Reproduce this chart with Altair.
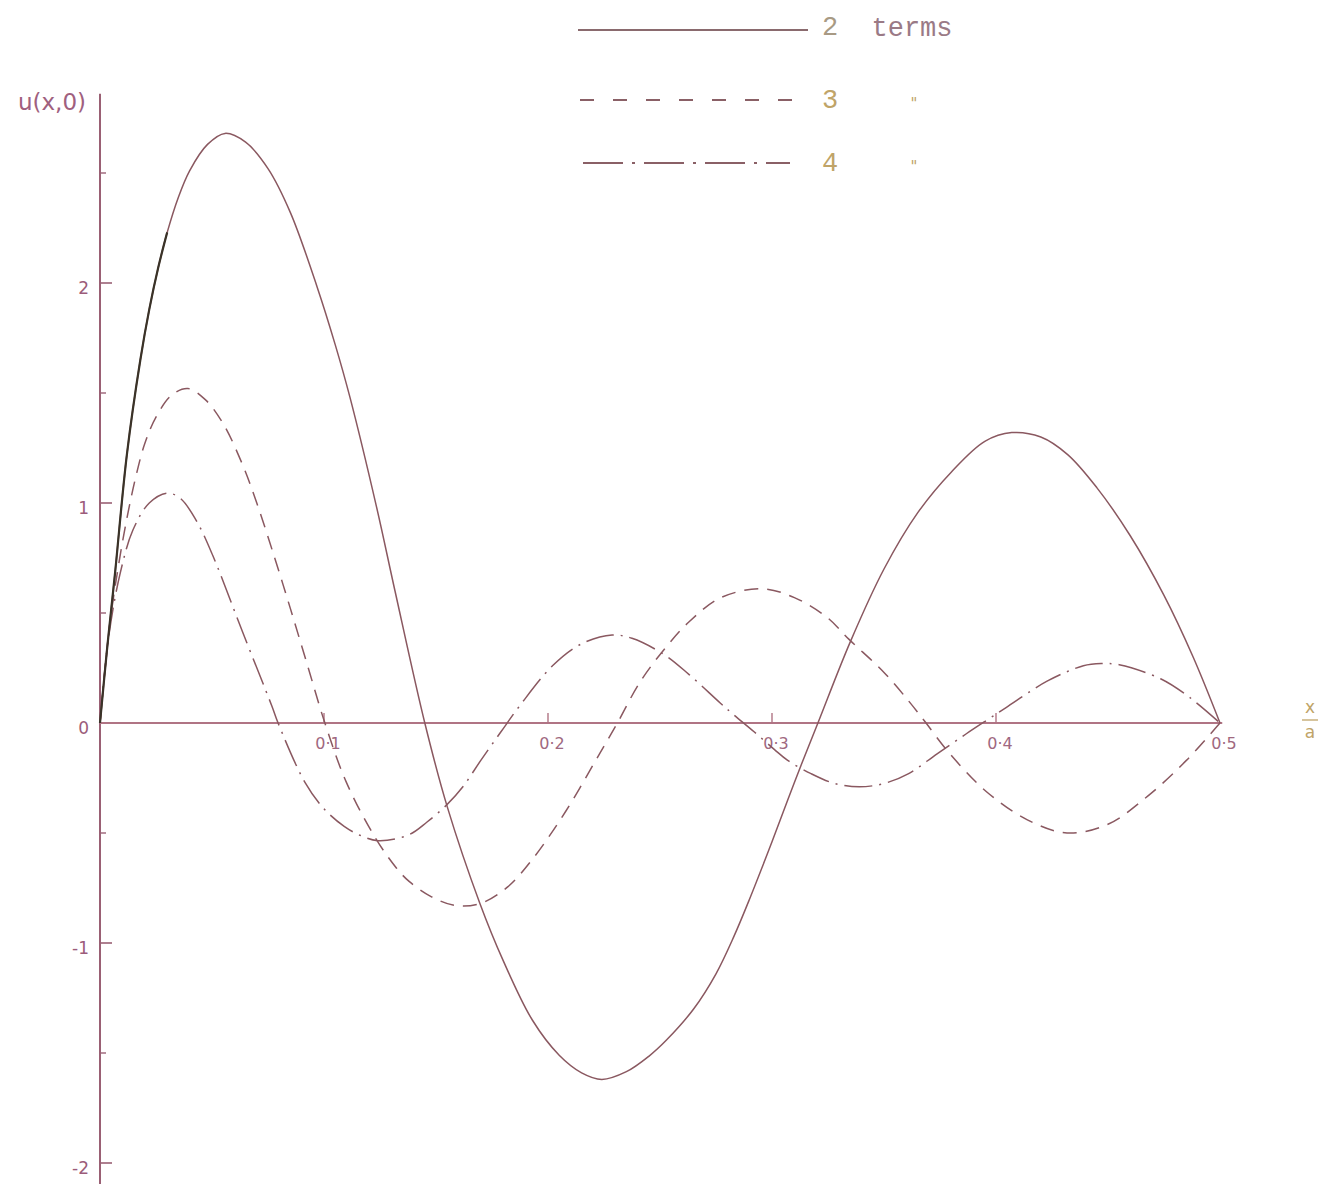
import altair as alt
import pandas as pd

# ---------------- data ----------------
x_2terms = [0, 0.003, 0.0067, 0.012, 0.018, 0.022, 0.026, 0.03, 0.035, 0.04, 0.048, 0.0558,
            0.065, 0.075, 0.085, 0.097, 0.105, 0.1116, 0.1235, 0.1317, 0.145, 0.155, 0.1696,
            0.18, 0.193, 0.205, 0.215, 0.224, 0.235, 0.245, 0.253, 0.265, 0.275, 0.283, 0.29,
            0.30, 0.31, 0.3205, 0.335, 0.35, 0.365, 0.38, 0.395, 0.407, 0.42, 0.432, 0.445,
            0.46, 0.475, 0.488, 0.5]
u_2terms = [0, 0.32, 0.68, 1.22, 1.65, 1.88, 2.07, 2.23, 2.39, 2.51, 2.63, 2.68,
            2.64, 2.52, 2.32, 1.98, 1.72, 1.48, 0.98, 0.6, 0.0, -0.38, -0.82,
            -1.08, -1.35, -1.51, -1.59, -1.62, -1.585, -1.515, -1.44, -1.3, -1.14, -0.97, -0.8,
            -0.54, -0.27, 0.0, 0.37, 0.7, 0.955, 1.14, 1.28, 1.32, 1.3, 1.22, 1.07,
            0.85, 0.58, 0.3, 0.0]

x_3terms = [0, 0.004, 0.008, 0.012, 0.016, 0.02, 0.025, 0.032, 0.0393, 0.047, 0.055, 0.0634,
            0.07, 0.078, 0.085, 0.0924, 0.1004, 0.11, 0.1228, 0.1324, 0.138, 0.148, 0.159,
            0.17, 0.182, 0.193, 0.208, 0.223, 0.231, 0.241, 0.2527, 0.263, 0.2772, 0.2955,
            0.31, 0.3246, 0.3344, 0.35, 0.361, 0.368, 0.379, 0.3955, 0.414, 0.4317, 0.45,
            0.468, 0.485, 0.5]
u_3terms = [0, 0.42, 0.7, 0.93, 1.12, 1.27, 1.39, 1.49, 1.52, 1.47, 1.36, 1.18,
            1.0, 0.75, 0.52, 0.27, 0.0, -0.27, -0.52, -0.66, -0.72, -0.79, -0.83,
            -0.82, -0.745, -0.62, -0.4, -0.14, 0.0, 0.185, 0.345, 0.46, 0.57, 0.61,
            0.57, 0.48, 0.38, 0.23, 0.1, 0.01, -0.135, -0.31, -0.44, -0.5, -0.46,
            -0.33, -0.17, 0.0]

x_4terms = [0, 0.004, 0.009, 0.0147, 0.022, 0.03, 0.036, 0.043, 0.0504, 0.0634, 0.0768,
            0.0795, 0.0915, 0.1, 0.109, 0.116, 0.124, 0.1375, 0.146, 0.155, 0.162, 0.17,
            0.179, 0.1875, 0.202, 0.215, 0.2286, 0.2375, 0.252, 0.263, 0.277, 0.2826, 0.292,
            0.301, 0.307, 0.3174, 0.328, 0.339, 0.35, 0.361, 0.3737, 0.3866, 0.397, 0.4045,
            0.4228, 0.439, 0.447, 0.455, 0.4737, 0.4866, 0.5]
u_4terms = [0, 0.4, 0.68, 0.877, 1.0, 1.045, 1.02, 0.92, 0.76, 0.42, 0.075,
            0.0, -0.27, -0.39, -0.47, -0.51, -0.535, -0.51, -0.45, -0.37, -0.29, -0.17,
            -0.04, 0.08, 0.26, 0.36, 0.4, 0.385, 0.31, 0.22, 0.09, 0.04, -0.04,
            -0.12, -0.17, -0.23, -0.275, -0.29, -0.275, -0.23, -0.14, -0.05, 0.02, 0.07,
            0.19, 0.26, 0.27, 0.265, 0.2, 0.115, 0.0]

y_major_ticks = [2, 1, -1, -2]
y_minor_ticks = [2.5, 1.5, 0.5, -0.5, -1.5]
y_label_values = [2, 1, 0, -1, -2]
y_tick_labels = ["2", "1", "0", "-1", "-2"]
x_ticks = [0.1, 0.2, 0.3, 0.4]
x_label_values = [0.1, 0.2, 0.3, 0.4, 0.5]
x_tick_labels = ["0·1", "0·2", "0·3", "0·4", "0·5"]
legend_numbers = ["2", "3", "4"]
y_title = "u(x,0)"

# ---------------- layout / style ----------------
W, H = 1314, 1176
PXX, PXY = 2240.0, 220.0          # pixels per unit
OX, OY = 92, 715                  # origin inside plot area
x_dom = [-OX / PXX, (W - OX) / PXX]
y_dom = [-(H - OY) / PXY, OY / PXY]
SX = alt.Scale(domain=x_dom, nice=False, zero=False)
SY = alt.Scale(domain=y_dom, nice=False, zero=False)

LINE = "#8a5860"
DARK = "#3a3328"
AXIS = "#9a6074"
LABEL = "#9c5c7a"
OLIVE = "#c0a468"
FONT = "DejaVu Sans"
MONO = "Liberation Mono"
INTERP = "catmull-rom"

one = pd.DataFrame({"k": [0]})


def X(f):
    return alt.X(f, type="quantitative", scale=SX, axis=None)


def Y(f):
    return alt.Y(f, type="quantitative", scale=SY, axis=None)


def curve(xs, us, dash=None, color=LINE, width=1.5):
    df = pd.DataFrame({"x": xs, "u": us, "i": list(range(len(xs)))})
    kw = dict(color=color, strokeWidth=width, interpolate=INTERP)
    if dash:
        kw["strokeDash"] = dash
    return alt.Chart(df).mark_line(**kw).encode(x=X("x"), y=Y("u"), order="i:Q")


layers = []

# axes
yaxis = pd.DataFrame({"x": [0.0], "y": [y_dom[0]], "y2": [2.86]})
layers.append(alt.Chart(yaxis).mark_rule(color=AXIS, strokeWidth=2).encode(
    x=X("x"), y=Y("y"), y2="y2:Q"))
xaxis = pd.DataFrame({"x": [0.0], "x2": [0.501], "y": [0.0]})
layers.append(alt.Chart(xaxis).mark_rule(color="#b07484", strokeWidth=1.8).encode(
    x=X("x"), x2="x2:Q", y=Y("y")))

# y ticks
ymaj = pd.DataFrame({"y": y_major_ticks, "x": [0.0] * len(y_major_ticks),
                     "x2": [12 / PXX] * len(y_major_ticks)})
layers.append(alt.Chart(ymaj).mark_rule(color=AXIS, strokeWidth=1.6).encode(
    x=X("x"), x2="x2:Q", y=Y("y")))
ymin = pd.DataFrame({"y": y_minor_ticks, "x": [0.0] * len(y_minor_ticks),
                     "x2": [6 / PXX] * len(y_minor_ticks)})
layers.append(alt.Chart(ymin).mark_rule(color=AXIS, strokeWidth=1.4).encode(
    x=X("x"), x2="x2:Q", y=Y("y")))
# x ticks
xt = pd.DataFrame({"x": x_ticks, "y": [0.0] * len(x_ticks), "y2": [10 / PXY] * len(x_ticks)})
layers.append(alt.Chart(xt).mark_rule(color="#b07484", strokeWidth=1.4).encode(
    x=X("x"), y=Y("y"), y2="y2:Q"))

# tick labels
yl = pd.DataFrame({"y": y_label_values, "t": y_tick_labels, "x": [0.0] * len(y_label_values)})
layers.append(alt.Chart(yl).mark_text(font=FONT, fontSize=17, color=LABEL, align="right",
                                      baseline="middle", dx=-11, dy=6).encode(
    x=X("x"), y=Y("y"), text="t:N"))
xl = pd.DataFrame({"x": x_label_values, "t": x_tick_labels, "y": [0.0] * len(x_label_values)})
layers.append(alt.Chart(xl).mark_text(font=FONT, fontSize=16, color="#a06880", align="center",
                                      baseline="middle", dx=4, dy=21).encode(
    x=X("x"), y=Y("y"), text="t:N"))

# curves
layers.append(curve(x_4terms, u_4terms, dash=[28, 7, 2, 7]))
layers.append(curve(x_3terms, u_3terms, dash=[14, 9]))
layers.append(curve(x_2terms, u_2terms))
dark_x = [v for v in x_2terms if v <= 0.03]
dark_u = u_2terms[:len(dark_x)]
layers.append(curve(dark_x, dark_u, color=DARK, width=2.2))

# axis titles
layers.append(alt.Chart(one).mark_text(text=y_title, font=FONT, fontSize=23, color="#a0607e",
                                       align="center", baseline="middle").encode(
    x=alt.value(44), y=alt.value(95)))
layers.append(alt.Chart(one).mark_text(text="x", font=FONT, fontSize=17, color=OLIVE,
                                       align="center", baseline="middle").encode(
    x=alt.value(1302), y=alt.value(700)))
layers.append(alt.Chart(one).mark_rule(color=OLIVE, strokeWidth=1.3).encode(
    x=alt.value(1294), x2=alt.value(1310), y=alt.value(712)))
layers.append(alt.Chart(one).mark_text(text="a", font=FONT, fontSize=17, color=OLIVE,
                                       align="center", baseline="middle").encode(
    x=alt.value(1302), y=alt.value(725)))

# hand-drawn legend
layers.append(alt.Chart(one).mark_rule(color="#8a6a6e", strokeWidth=2).encode(
    x=alt.value(570), x2=alt.value(800), y=alt.value(22)))
layers.append(alt.Chart(one).mark_rule(color="#8a6066", strokeWidth=2, strokeDash=[14, 19]).encode(
    x=alt.value(572), x2=alt.value(797), y=alt.value(92)))
layers.append(alt.Chart(one).mark_rule(color="#8a6066", strokeWidth=2,
                                       strokeDash=[40, 9, 3, 9]).encode(
    x=alt.value(575), x2=alt.value(782), y=alt.value(155)))
leg_y = [19, 92, 155]
leg_col = ["#a89a84", OLIVE, OLIVE]
for lab, yy, cc in zip(legend_numbers, leg_y, leg_col):
    layers.append(alt.Chart(one).mark_text(text=lab, font=MONO, fontSize=27, color=cc,
                                           align="center", baseline="middle").encode(
        x=alt.value(822), y=alt.value(yy)))
layers.append(alt.Chart(one).mark_text(text="terms", font=MONO, fontSize=27, color="#9a7a86",
                                       align="center", baseline="middle").encode(
    x=alt.value(904), y=alt.value(20)))
for yy in [92, 155]:
    layers.append(alt.Chart(one).mark_text(text='"', font=FONT, fontSize=15, color=OLIVE,
                                           align="center", baseline="middle").encode(
        x=alt.value(906), y=alt.value(yy + 4)))

chart = alt.layer(*layers).properties(
    width=W, height=H, padding=0, autosize=alt.AutoSizeParams(type="none")
).configure_view(stroke=None)

chart.save("out.html", embed_options={"renderer": "svg", "actions": False})
